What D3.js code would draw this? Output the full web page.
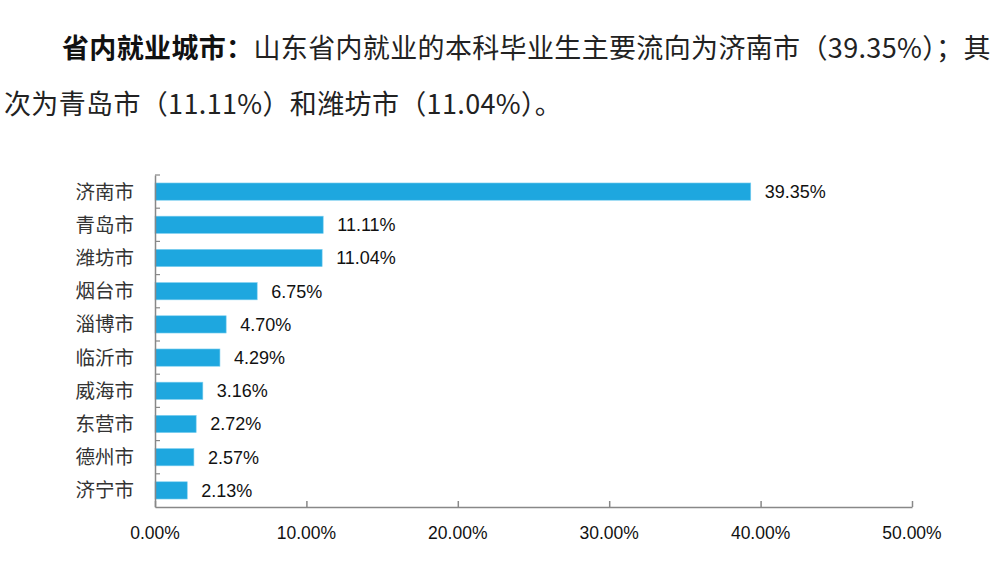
<!DOCTYPE html>
<html><head><meta charset="utf-8">
<script src="https://cdn.jsdelivr.net/npm/d3@7"></script>
<style>body{margin:0;background:#fff;}svg{display:block;}</style>
</head><body>
<svg id="c" width="1000" height="573"></svg>
<script>
const categories = ["济南市","青岛市","潍坊市","烟台市","淄博市","临沂市","威海市","东营市","德州市","济宁市"];
const values = [39.35, 11.11, 11.04, 6.75, 4.70, 4.29, 3.16, 2.72, 2.57, 2.13];
const xTicks = [0, 10, 20, 30, 40, 50];
const titleBold = "省内就业城市：";
const titleLine1 = "山东省内就业的本科毕业生主要流向为济南市（39.35%）；其";
const titleLine2 = "次为青岛市（11.11%）和潍坊市（11.04%）。";

const svg = d3.select("#c");
const cjk = "'Noto Sans CJK SC', sans-serif";
const num = "'Liberation Sans', 'DejaVu Sans', sans-serif";

// Title
const t1 = svg.append("text").attr("x", 62).attr("y", 58)
  .attr("font-family", cjk).attr("font-size", 27).attr("letter-spacing", 0.35).attr("fill", "#222");
t1.append("tspan").attr("font-weight", "bold").attr("fill", "#111").text(titleBold);
t1.append("tspan").text(titleLine1);
svg.append("text").attr("x", 4).attr("y", 114)
  .attr("font-family", cjk).attr("font-size", 27).attr("letter-spacing", 0.35).attr("fill", "#222").text(titleLine2);

const x = d3.scaleLinear().domain([0, 50]).range([155, 912]);
const y = d3.scaleBand().domain(categories).range([175, 507]).paddingInner(0.48).paddingOuter(0.24);

// bars
svg.append("g").selectAll("rect").data(values).join("rect")
  .attr("x", x(0)).attr("y", (d, i) => y(categories[i]))
  .attr("width", d => x(d) - x(0)).attr("height", y.bandwidth())
  .attr("fill", "#1EA7DF").attr("stroke", "#7FD0F0").attr("stroke-width", 0.6);

// value labels
svg.append("g").selectAll("text").data(values).join("text")
  .attr("x", d => x(d) + 14).attr("y", (d, i) => y(categories[i]) + y.bandwidth() / 2)
  .attr("dy", "0.36em").attr("font-family", num).attr("font-size", 18).attr("fill", "#111")
  .text(d => d.toFixed(2) + "%");

// x axis
const xa = svg.append("g").attr("transform", "translate(0,507)")
  .call(d3.axisBottom(x).tickValues(xTicks).tickSizeInner(-6).tickSizeOuter(0).tickFormat(() => ""));
xa.selectAll("path,line").attr("stroke", "#888").attr("stroke-width", 1.5);
svg.append("g").selectAll("text").data(xTicks).join("text")
  .attr("x", d => x(d)).attr("y", 539).attr("text-anchor", "middle")
  .attr("font-family", num).attr("font-size", 17.5).attr("fill", "#111")
  .text(d => d.toFixed(2) + "%");

// y axis
const step = y.step();
const ya = svg.append("g").attr("transform", "translate(155,0)")
  .call(d3.axisLeft(y).tickSize(0).tickFormat(""));
ya.selectAll("path").attr("stroke", "#888").attr("stroke-width", 1.5);
ya.selectAll("text").remove();
// boundary ticks (inside)
const bounds = categories.map(c => y(c) - (step - y.bandwidth()) / 2);
svg.append("g").selectAll("line").data(bounds).join("line")
  .attr("x1", 155).attr("x2", 160).attr("y1", d => d).attr("y2", d => d)
  .attr("stroke", "#888").attr("stroke-width", 1.2);

// category labels
svg.append("g").selectAll("text").data(categories).join("text")
  .attr("x", 134).attr("y", d => y(d) + y.bandwidth() / 2).attr("dy", "0.36em")
  .attr("text-anchor", "end").attr("font-family", cjk).attr("font-size", 19.5).attr("fill", "#333")
  .text(d => d);
</script>
</body></html>
